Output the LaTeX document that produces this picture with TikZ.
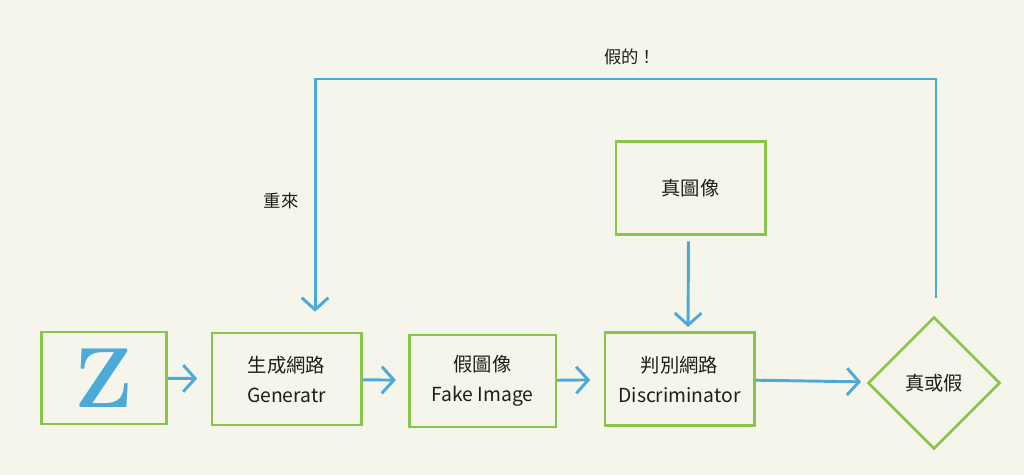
\documentclass[tikz,border=0pt]{standalone}
\usepackage{fontspec}
\newfontfamily\cjk{Noto Sans CJK TC}
\usepackage{xcolor}
\usetikzlibrary{arrows.meta,shapes.geometric}
\definecolor{gangreen}{RGB}{139,196,74}
\definecolor{ganblue}{RGB}{76,170,216}
\definecolor{ganbg}{RGB}{246,245,235}
\definecolor{gantext}{RGB}{30,30,30}
\tikzset{
  ganbox/.style  = {rectangle, draw=gangreen, line width=2pt, align=center,
                    text=gantext, font=\cjk\fontsize{14.5}{22.5}\selectfont,
                    minimum width=112pt, minimum height=69pt, inner sep=2pt},
  gandia/.style  = {diamond, draw=gangreen, line width=2pt, align=center,
                    text=gantext, font=\cjk\fontsize{14.5}{17}\selectfont,
                    minimum width=99pt, minimum height=99pt, inner sep=0pt},
  ganflow/.style = {-{Straight Barb[length=9pt,width=20pt]}, draw=ganblue,
                    line width=2.2pt},
  ganlbl/.style  = {text=gantext, font=\cjk\fontsize{13}{15}\selectfont},
}
\begin{document}
\begin{tikzpicture}[x=0.75pt,y=0.75pt]
  \fill[ganbg] (0,0) rectangle (1024,475);

  \node[ganbox, minimum width=94pt] (z)    at (104,97)    {\textcolor{ganblue}{\fontspec{Latin Modern Roman}\bfseries\fontsize{64}{64}\selectfont Z}};
  \node[ganbox]                     (gen)  at (286.5,96)  {生成網路\\Generatr};
  \node[ganbox, minimum width=110pt] (fake) at (482.5,94) {假圖像\\Fake Image};
  \node[ganbox, minimum height=70pt] (disc) at (679.5,96) {判別網路\\Discriminator};
  \node[ganbox, minimum height=70pt] (real) at (690.5,287) {真圖像};
  \node[gandia]                     (dia)  at (934,92)    {真或假};

  \coordinate (top)  at (0,396);
  \coordinate (back) at ([xshift=21.4pt]gen.north);

  \draw[ganflow, shorten >=10pt] (z) -- (gen);
  \draw[ganflow, shorten >=9pt]  (gen) -- (fake);
  \draw[ganflow, shorten >=10pt] (fake) -- (disc);
  \draw[ganflow, shorten <=4pt, shorten >=3pt] ([xshift=-1.5pt]real.south) -- ([xshift=6.4pt]disc.north);
  \draw[ganflow, shorten >=5pt]  (disc) -- (dia);
  \draw[ganflow, shorten <=13pt, shorten >=15pt]
        ([xshift=1.5pt]dia.north) -- ([xshift=1.5pt]dia.north |- top) -- (back |- top) -- (back);

  \node[ganlbl] (fakelbl)  at (630,418) {假的！};
  \node[ganlbl] (againlbl) at (281,274) {重來};
\end{tikzpicture}
\end{document}
